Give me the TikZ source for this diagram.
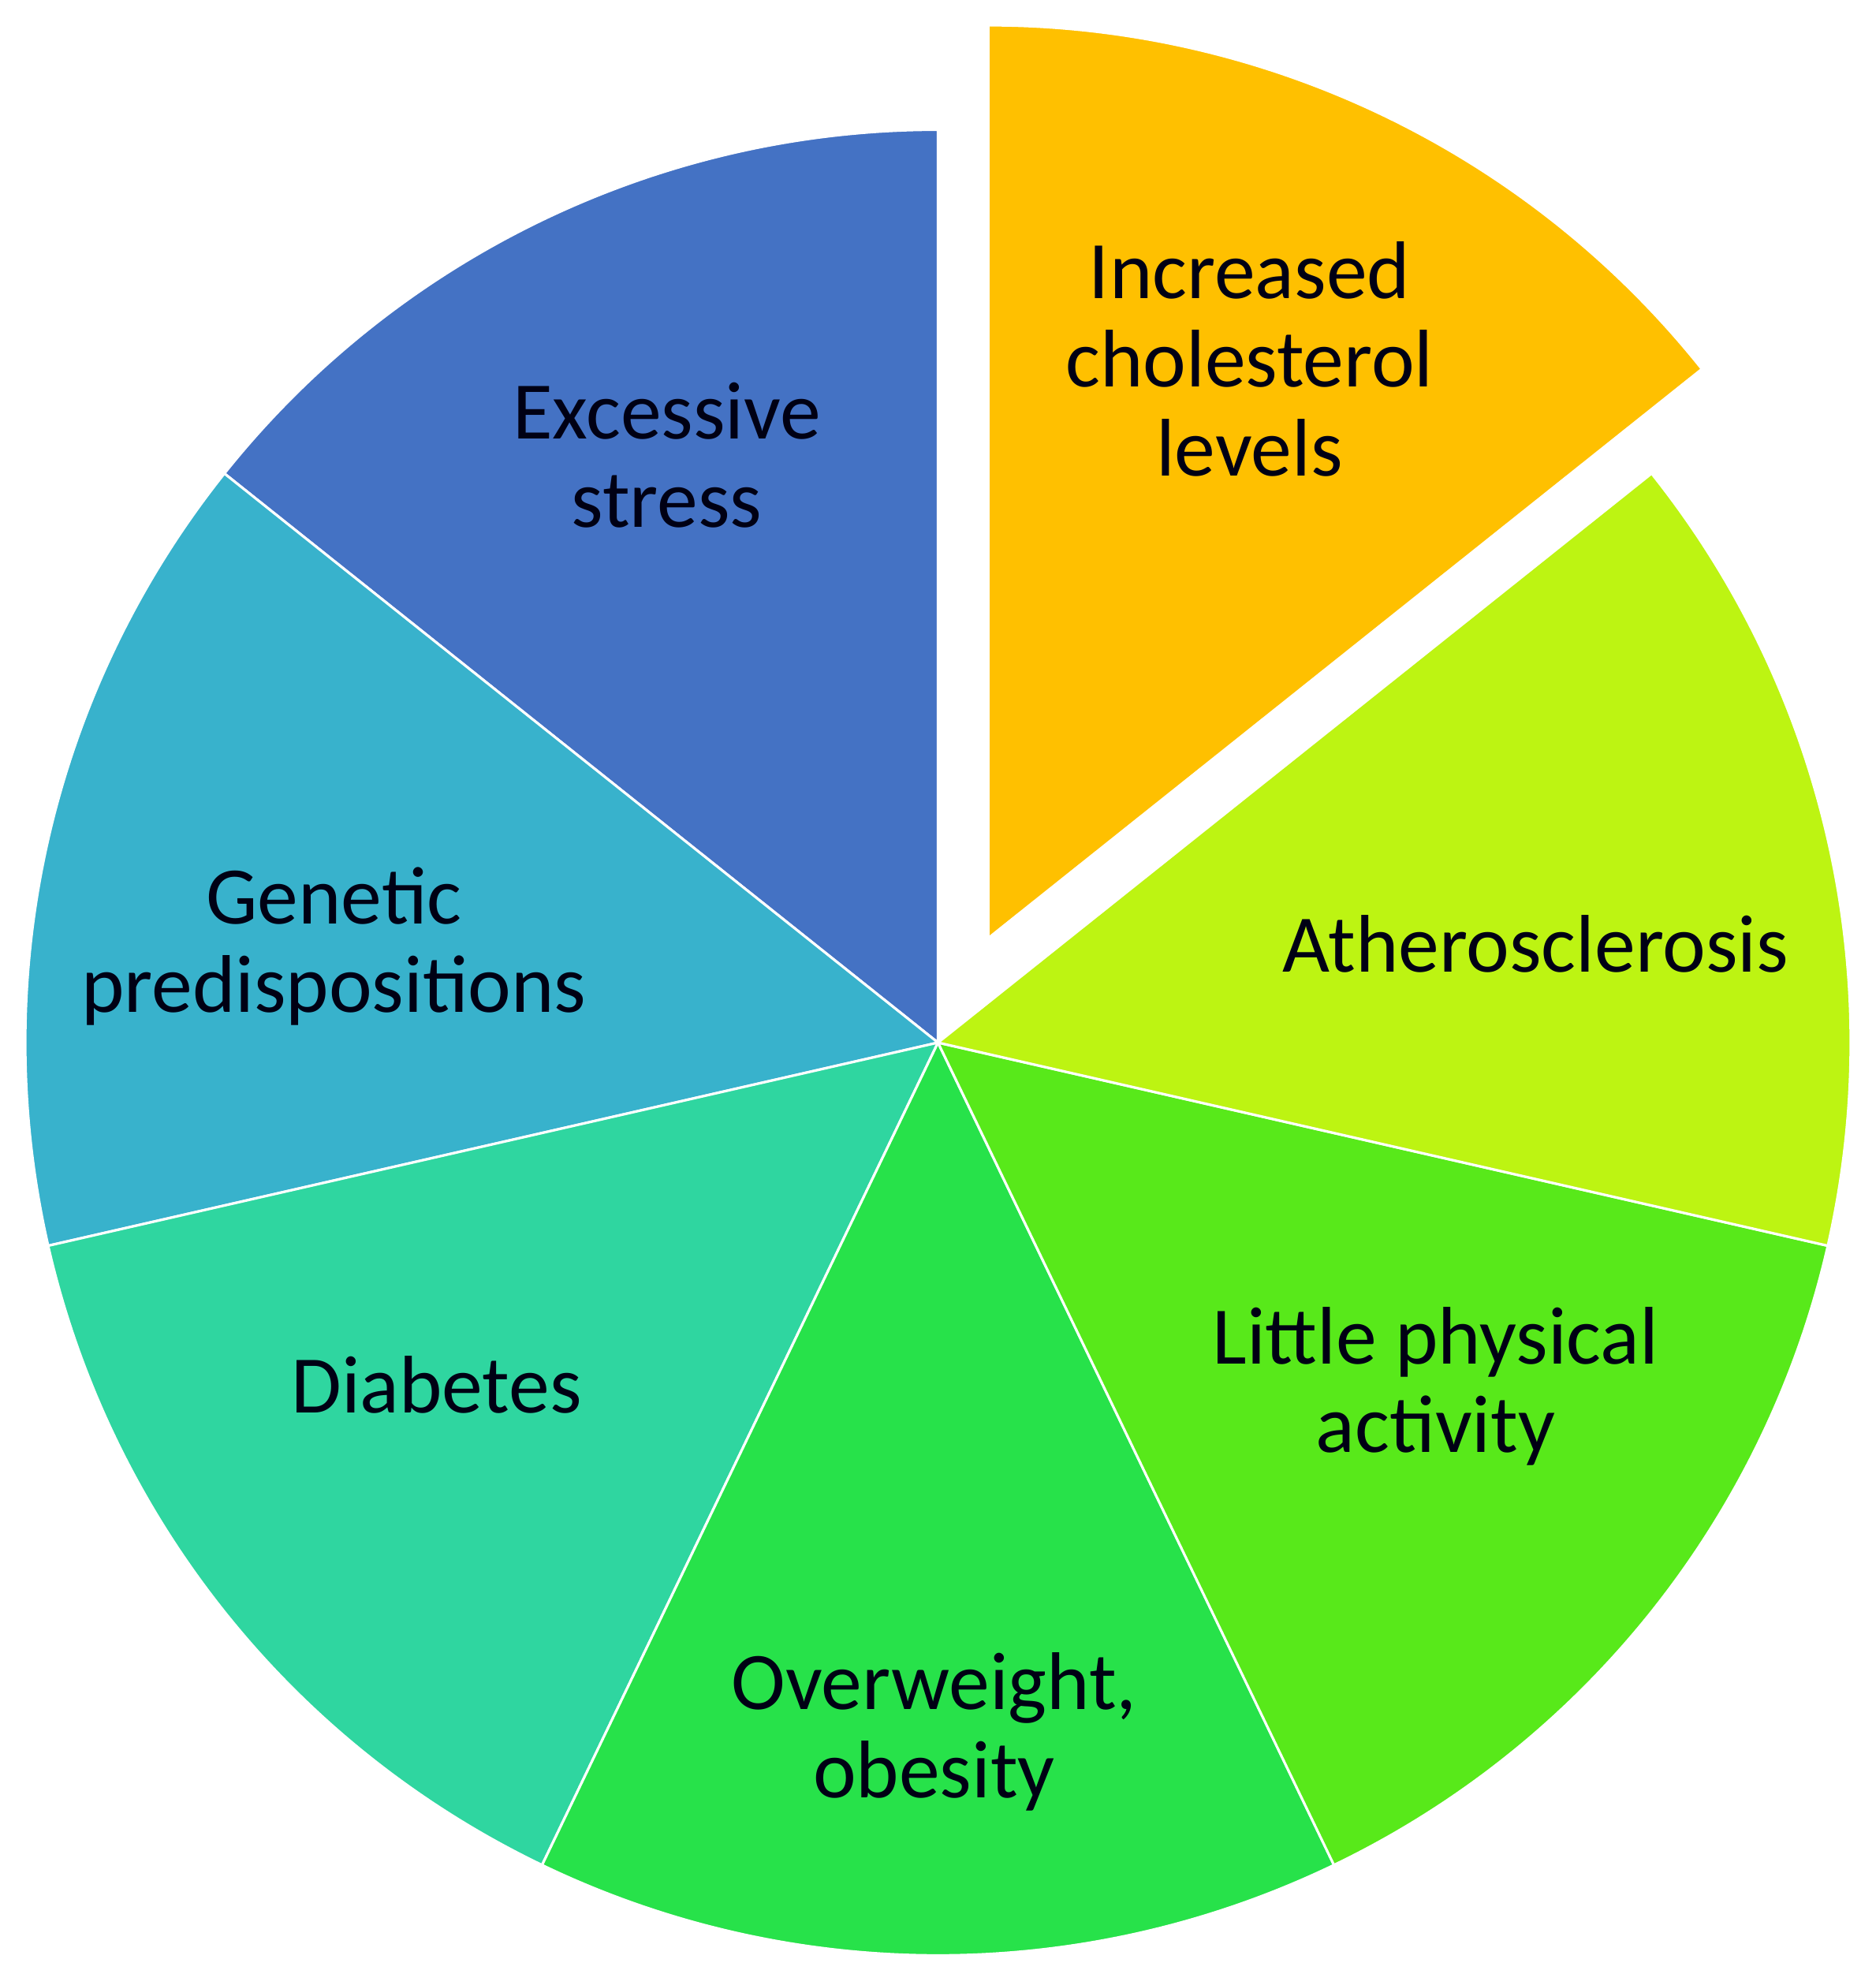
\documentclass[tikz,border=0pt]{standalone}
\usepackage{fontspec}
\setmainfont{Carlito}
\usepackage{xcolor}
\usetikzlibrary{positioning}

\definecolor{stressblue}{HTML}{4472C4}
\definecolor{geneticblue}{HTML}{38B2CC}
\definecolor{diabetesgreen}{HTML}{2FD6A0}
\definecolor{weightgreen}{HTML}{27E24A}
\definecolor{activitygreen}{HTML}{58E91A}
\definecolor{atherolime}{HTML}{BDF412}
\definecolor{cholorange}{HTML}{FFC000}

\tikzset{
  slice/.style={draw=white, line width=0.9pt},
  factor/.style={align=center, inner sep=0pt, text=black!92!blue,
    font=\fontsize{29.5}{32}\selectfont}
}

\begin{document}
\begin{tikzpicture}
\useasboundingbox (-11.895,-11.81) rectangle (11.895,13.22);
\def\r{11.575}
% the six slices that stay in place
\foreach \a/\c in {90/stressblue, 141.43/geneticblue, 192.86/diabetesgreen,
                   244.29/weightgreen, 295.71/activitygreen, 347.14/atherolime}
  \filldraw[slice, fill=\c] (0,0) -- (\a:\r) arc[start angle=\a, delta angle=51.43, radius=\r] -- cycle;
% pulled out slice
\coordinate (tip) at (64.29:1.47);
\filldraw[slice, fill=cholorange] (tip) -- ++(38.57:\r) arc[start angle=38.57, end angle=90, radius=\r] -- cycle;

\node[factor] (chol) at (3.95,8.67) {Increased\\cholesterol\\levels};
\node[factor] (stress) at (-3.44,7.45) {Excessive\\stress};
\node[factor] (genetic) at (-7.66,1.22) {Genetic\\predispositions};
\node[factor] (athero) at (7.58,1.25) {Atherosclerosis};
\node[factor] (activity) at (6.31,-4.36) {Little physical\\activity};
\node[factor] (diabetes) at (-6.36,-4.34) {Diabetes};
\node[factor] (weight) at (-0.05,-8.74) {Overweight,\\obesity};
\end{tikzpicture}
\end{document}
